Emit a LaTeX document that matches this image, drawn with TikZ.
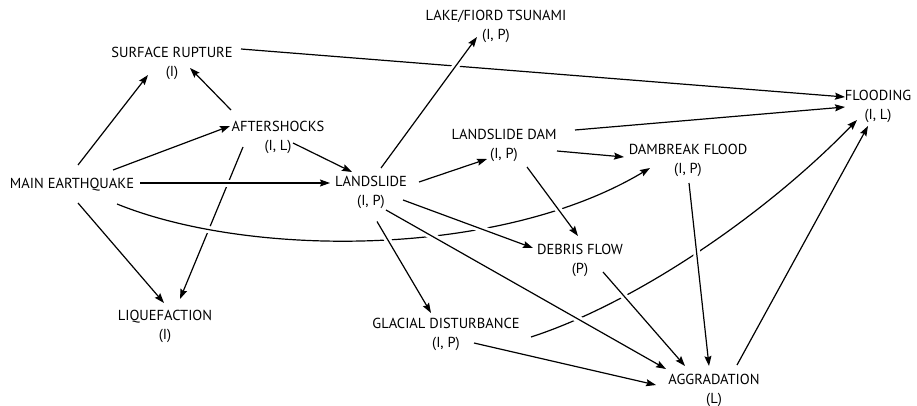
\documentclass[tikz,border=0pt]{standalone}
\usepackage{fontspec}
\setmainfont{PT Sans}
\usetikzlibrary{arrows.meta,calc}
\begin{document}
\begin{tikzpicture}[x=1pt,y=-1pt,
  lbl/.style={align=center,inner sep=0pt,font=\fontsize{14.5}{19}\selectfont},
  arr/.style={line width=1.2pt,-{Stealth[length=10pt,width=7pt,inset=1.5pt]}},
  over/.style={preaction={draw=white,line width=7pt,-}}]
\useasboundingbox[fill=white] (0,0) rectangle (917,406);
% nodes
\node[lbl] (main)   at (72,185)    {MAIN EARTHQUAKE};
\node[lbl] (surf)   at (172,63.5)  {SURFACE RUPTURE\\(I)};
\node[lbl] (tsun)   at (496,26.5)  {LAKE/FIORD TSUNAMI\\(I, P)};
\node[lbl] (after)  at (278,137.5) {AFTERSHOCKS\\(I, L)};
\node[lbl] (lslide) at (371,192)   {LANDSLIDE\\(I, P)};
\node[lbl] (ldam)   at (504,145.5) {LANDSLIDE DAM\\(I, P)};
\node[lbl] (dflood) at (688,160)   {DAMBREAK FLOOD\\(I, P)};
\node[lbl] (flood)  at (878,106.5) {FLOODING\\(I, L)};
\node[lbl] (debris) at (580,260.5) {DEBRIS FLOW\\(P)};
\node[lbl] (liq)    at (165,326)   {LIQUEFACTION\\(I)};
\node[lbl] (glac)   at (446,334.5) {GLACIAL DISTURBANCE\\(I, P)};
\node[lbl] (aggr)   at (714,390.5) {AGGRADATION\\(L)};
% bottom layer
\draw[arr] ($(after)+(-35,9.5)$) -- ($(liq)+(15,-27)$);
\draw[arr,over] ($(main)+(68,-2)$) -- ($(lslide)+(-41,-9)$);
\draw[arr,over] ($(main)+(45,19)$) .. controls (250,258) and (500,258) .. ($(dflood)+(-38,8)$);
\draw[arr] ($(glac)+(85,2.5)$) .. controls (630,305) and (760,220) .. ($(flood)+(-21,13.5)$);
\draw[arr] ($(surf)+(69,-14.5)$) -- ($(flood)+(-33,-9.5)$);
% upper layer
\draw[arr,over] ($(lslide)+(6,29.5)$) -- ($(glac)+(-15,-21.5)$);
\draw[arr,over] ($(lslide)+(15,18)$) -- ($(aggr)+(-48,-21.5)$);
\draw[arr,over] ($(lslide)+(32,8)$) -- ($(debris)+(-47,-12.5)$);
\draw[arr,over] ($(ldam)+(23,21.5)$) -- ($(debris)+(-2,-24.5)$);
\draw[arr,over] ($(debris)+(23,11.5)$) -- ($(aggr)+(-29,-24.5)$);
\draw[arr,over] ($(dflood)+(1,23)$) -- ($(aggr)+(-5,-24.5)$);
\draw[arr,over] ($(lslide)+(10,-24)$) -- ($(tsun)+(-19,10.5)$);
% other connectors
\draw[arr] ($(main)+(6,-20)$) -- ($(surf)+(-24,11.5)$);
\draw[arr] ($(main)+(41,-15)$) -- ($(after)+(-48,-11.5)$);
\draw[arr] ($(after)+(-47,-27.5)$) -- ($(surf)+(18,4.5)$);
\draw[arr] ($(after)+(15,5.5)$) -- ($(lslide)+(-19,-20)$);
\draw[arr] ($(main)+(6,18)$) -- ($(liq)+(-1,-23)$);
\draw[arr] ($(lslide)+(48,-10)$) -- ($(ldam)+(-17,13.5)$);
\draw[arr] ($(ldam)+(71,-15.5)$) -- ($(flood)+(-33,0.5)$);
\draw[arr] ($(ldam)+(53,5.5)$) -- ($(dflood)+(-64,-3)$);
\draw[arr] ($(glac)+(28,8.5)$) -- ($(aggr)+(-58,-5.5)$);
\draw[arr] ($(aggr)+(23,-25.5)$) -- ($(flood)+(-10,19.5)$);
\end{tikzpicture}
\end{document}
